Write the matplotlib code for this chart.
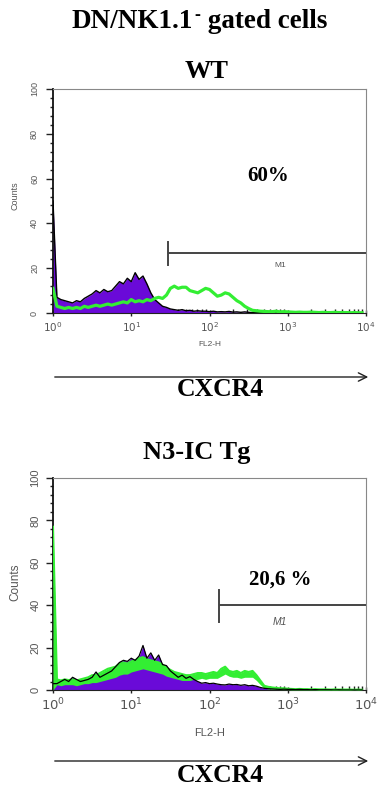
import numpy as np
import matplotlib
matplotlib.use("Agg")
import matplotlib.pyplot as plt
from matplotlib.ticker import FixedLocator, MultipleLocator, LogLocator, NullFormatter

# channel grid: log10(FL2-H) from 0 to 3.95, step 0.05
log_channels = np.arange(80) * 0.05
fl2h = 10 ** log_channels

wt_isotype = [
    50, 7, 6, 5.5, 5, 4.5, 5.5, 5, 6.5, 7.5,
    8.5, 10, 9, 10.5, 9.5, 10, 12, 14, 13, 15.5,
    14, 18, 15, 16.5, 13, 9, 6, 4.5, 3, 2.5,
    1.8, 1.5, 1.2, 1.5, 1.0, 1.2, 0.8, 1.0, 0.8, 0.8,
    0.6, 0.8, 0.5, 0.6, 0.5, 0.7, 0.4, 0.5, 0.3, 0.5,
    0.3, 0.2, 0.3, 0.2, 0.2, 0.3, 0.2, 0.1, 0.2, 0.1,
    0.1, 0.2, 0.1, 0.1, 0.1, 0.1, 0, 0.1, 0, 0,
    0, 0, 0, 0, 0, 0, 0, 0, 0, 0,
]
wt_cxcr4 = [
    11, 3, 2.5, 2, 2.5, 2, 2.5, 2, 3, 2.5,
    3, 3.5, 3, 3.5, 4, 3.5, 4, 4.5, 5, 4.5,
    6, 5, 5.5, 5, 6, 5.5, 6.5, 7, 6.5, 8,
    11, 12, 11, 11.5, 11.5, 10, 9.5, 9, 10, 11,
    10.5, 9, 7.5, 8, 9, 8.5, 7, 5.5, 4.5, 3,
    2, 1.2, 1.0, 0.8, 0.7, 0.6, 0.6, 0.8, 0.5, 0.6,
    0.5, 0.4, 0.3, 0.4, 0.3, 0.3, 0.4, 0.3, 0.2, 0.3,
    0.2, 0.2, 0.3, 0.2, 0.2, 0.2, 0.1, 0.2, 0.1, 0.1,
]
tg_isotype = [
    3, 3, 4, 5, 4, 6, 5, 4, 4.5, 5,
    6, 8.5, 6, 7, 8, 9, 11, 13, 14, 13.5,
    15, 14, 16, 21, 15, 17.5, 14, 16.5, 12, 11.5,
    9, 7.5, 6, 7, 5.5, 6.3, 5, 4, 3.2, 3.5,
    3, 3.2, 2.8, 2.5, 2.4, 2.8, 2.5, 2.6, 2.2, 2.5,
    2, 2.2, 1.8, 1.2, 0.8, 0.6, 0.5, 0.4, 0.3, 0.4,
    0.3, 0.3, 0.2, 0.3, 0.2, 0.2, 0.1, 0.2, 0.1, 0.1,
    0.1, 0.1, 0, 0.1, 0, 0, 0, 0, 0, 0,
]
# the Tg green trace is so jagged it reads as a band: upper and lower edge
tg_cxcr4_hi = [
    77, 5, 4.5, 5, 4.7, 5, 4.5, 5, 5.5, 6,
    7, 7, 8, 9, 10, 10.5, 11, 12.5, 13, 12.5,
    13.5, 14, 15, 15.5, 14.5, 14, 13.5, 13, 12, 10.5,
    9.5, 8.5, 8, 7.5, 7, 7, 7.5, 8, 8, 7.5,
    8, 8.5, 8, 10, 11, 9, 8.5, 9, 8, 9,
    8.5, 9, 7, 4.5, 2, 1.5, 1.2, 1, 0.8, 0.8,
    0.6, 0.5, 0.4, 0.5, 0.4, 0.4, 0.3, 0.4, 0.3, 0.3,
    0.3, 0.2, 0.3, 0.2, 0.2, 0.2, 0.2, 0.1, 0.2, 0.1,
]
tg_cxcr4_lo = [
    0, 2.5, 2, 2.5, 2.5, 2.5, 2, 2.5, 3, 3,
    3.5, 3.5, 4, 4.5, 5, 5.5, 6, 7, 7.5, 7.5,
    8.5, 9, 9.5, 10, 9.5, 9, 8.5, 8, 7.5, 6.5,
    6, 5.5, 5, 4.5, 4.5, 4.5, 5, 5, 5.5, 5,
    5.5, 5.5, 5.5, 6.5, 7.5, 6.5, 6, 6, 5.5, 6,
    6, 6, 4.5, 2.5, 0.8, 0.5, 0.4, 0.3, 0.2, 0.2,
    0.2, 0.1, 0.1, 0.1, 0.1, 0.1, 0.1, 0.1, 0, 0,
    0, 0, 0, 0, 0, 0, 0, 0, 0, 0,
]

y_ticks = [0, 20, 40, 60, 80, 100]
x_ticks = [1, 10, 100, 1000, 10000]
x_tick_labels = ["$10^{0}$", "$10^{1}$", "$10^{2}$", "$10^{3}$", "$10^{4}$"]

wt_gate = (29.5, 27)      # M1 start, count level
tg_gate = (132, 40)
wt_percent = "60%"
tg_percent = "20,6 %"

PURPLE = "#6a0ad8"
GREEN = "#33ee33"
GREY = "#555555"

W, H = 377, 787


def fx(px):
    return px / W


def fy(py):
    return 1 - py / H


def style_axes(ax, tick_size, ytick_size, label_pad):
    ax.set_xscale("log")
    ax.set_xlim(1, 1e4)
    ax.set_ylim(0, 100)
    ax.xaxis.set_major_locator(FixedLocator(x_ticks))
    ax.xaxis.set_minor_locator(LogLocator(base=10, subs=np.arange(2, 10)))
    ax.xaxis.set_minor_formatter(NullFormatter())
    ax.set_xticklabels(x_tick_labels, fontsize=tick_size, color=GREY)
    ax.set_yticks(y_ticks)
    ax.set_yticklabels([str(v) for v in y_ticks], fontsize=ytick_size,
                       color=GREY, rotation=90, va="center")
    ax.yaxis.set_minor_locator(MultipleLocator(4))
    ax.tick_params(axis="x", which="major", direction="inout", length=5,
                   width=1, color="#222222", pad=label_pad)
    ax.tick_params(axis="x", which="minor", direction="in", length=3,
                   width=1, color="#222222")
    ax.tick_params(axis="y", which="major", direction="out", length=5,
                   width=1, color="#222222", pad=label_pad + 2)
    ax.tick_params(axis="y", which="minor", direction="out", length=2.5,
                   width=1, color="#222222")
    ax.spines["left"].set_color("#111111")
    ax.spines["left"].set_linewidth(1.3)
    ax.spines["bottom"].set_color("#222222")
    ax.spines["top"].set_color("#888888")
    ax.spines["right"].set_color("#888888")
    for t in ax.get_xticklabels() + ax.get_yticklabels():
        t.set_fontfamily("Liberation Sans")


def draw_gate(ax, gate, half_height, label, label_y, label_size, italic=False):
    start, level = gate
    ax.plot([start, 1e4], [level, level], color="#444444", lw=1.4,
            solid_capstyle="butt", zorder=6)
    ax.plot([start, start], [level - half_height[0], level + half_height[1]],
            color="#444444", lw=1.4, zorder=6)
    ax.text(10 ** 2.9, label_y, label, fontsize=label_size, color=GREY,
            family="Liberation Sans", ha="center", va="center",
            style="italic" if italic else "normal", zorder=6)


fig = plt.figure(figsize=(W / 100, H / 100), dpi=100)
fig.patch.set_facecolor("white")

# ---- WT panel
ax1 = fig.add_axes([fx(53), fy(313), fx(366) - fx(53), fy(89) - fy(313)])
ax1.fill_between(fl2h, wt_isotype, color=PURPLE, lw=0, zorder=2)
ax1.plot(fl2h, wt_isotype, color="black", lw=1.0, zorder=3)
ax1.plot(fl2h, wt_cxcr4, color=GREEN, lw=2.3, zorder=4)
style_axes(ax1, 7.5, 6.5, 3)
draw_gate(ax1, wt_gate, (5.5, 4.5), "M1", 21, 6)
ax1.text(10 ** 2.75, 61, wt_percent, fontsize=15, fontweight="bold",
         family="Liberation Serif", ha="center", va="center")

# ---- N3-IC Tg panel
ax2 = fig.add_axes([fx(53), fy(690), fx(366) - fx(53), fy(478) - fy(690)])
ax2.fill_between(fl2h, tg_isotype, color=PURPLE, lw=0, zorder=2)
ax2.fill_between(fl2h, tg_cxcr4_lo, tg_cxcr4_hi, color=GREEN, lw=0, zorder=3)
ax2.plot(fl2h, tg_cxcr4_hi, color=GREEN, lw=1.5, zorder=3)
ax2.plot(fl2h, tg_isotype, color="black", lw=0.9, zorder=4)
style_axes(ax2, 9.5, 8, 2)
draw_gate(ax2, tg_gate, (8, 7), "M1", 32, 7.5, italic=True)
ax2.text(10 ** 2.9, 52, tg_percent, fontsize=15, fontweight="bold",
         family="Liberation Serif", ha="center", va="center")

# ---- figure texts
serif = "Liberation Serif"
renderer = fig.canvas.get_renderer()

# title built from pieces so the superscript minus stays a small hyphen
t_left = fig.text(fx(72), fy(22), "DN/NK1.1", fontsize=19.5, fontweight="bold",
                  family=serif, ha="left", va="center")
x_end = t_left.get_window_extent(renderer).x1
t_sup = fig.text((x_end + 1) / W, fy(15), "-", fontsize=13, fontweight="bold",
                 family=serif, ha="left", va="center")
x_end = t_sup.get_window_extent(renderer).x1
fig.text((x_end + 1) / W, fy(22), " gated cells", fontsize=19.5,
         fontweight="bold", family=serif, ha="left", va="center")

fig.text(fx(207), fy(71), "WT", fontsize=19, fontweight="bold", family=serif,
         ha="center", va="center")
fig.text(fx(197), fy(452), "N3-IC Tg", fontsize=19, fontweight="bold",
         family=serif, ha="center", va="center")

for y_lab, size, y_cnt, c_size in [(344, 6, 196, 6.5), (733, 8, 582, 8.5)]:
    fig.text(fx(210), fy(y_lab), "FL2-H", fontsize=size, color=GREY,
             family="Liberation Sans", ha="center", va="center")
    fig.text(fx(15), fy(y_cnt), "Counts", fontsize=c_size, color=GREY,
             family="Liberation Sans", ha="center", va="center", rotation=90)

for y_arrow, y_text in [(377, 390), (761, 776)]:
    fig.add_artist(matplotlib.patches.FancyArrowPatch(
        (fx(52), fy(y_arrow)), (fx(371), fy(y_arrow)),
        transform=fig.transFigure, arrowstyle="->,head_length=6,head_width=3",
        color="#222222", lw=1.0))
    fig.text(fx(220), fy(y_text), "CXCR4", fontsize=18.5, fontweight="bold",
             family=serif, ha="center", va="center")

fig.savefig("out.png", dpi=100)
